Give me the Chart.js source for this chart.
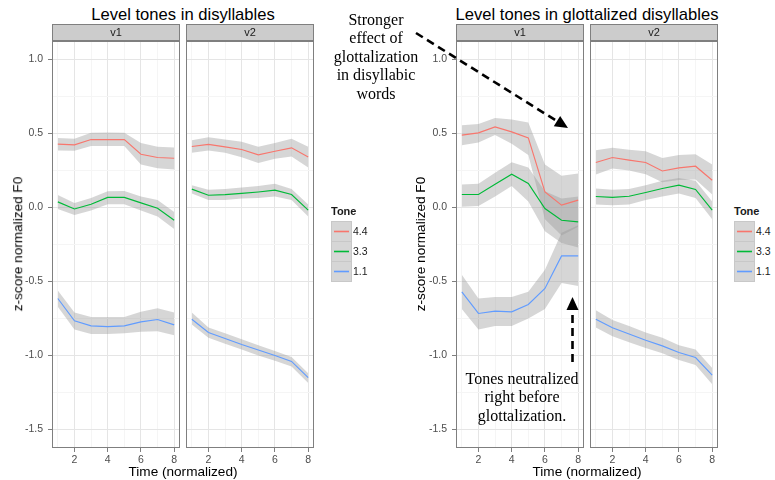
<!DOCTYPE html>
<html lang="en">
<head>
  <meta charset="UTF-8" />
  <title>Level tones</title>
  <script src="https://cdn.jsdelivr.net/npm/chart.js"></script>
  <style>
    body { margin: 0; background: #fff; font-family: "Liberation Sans", Arial, sans-serif; }
    #wrap { position: relative; width: 775px; height: 480px; overflow: hidden; background: #fff; }
    canvas.facet { position: absolute; }
    .title { position: absolute; font-size: 16.6px; color: #000; text-align: center; white-space: nowrap; line-height: 1; }
    .xtitle { position: absolute; font-size: 13.6px; color: #000; text-align: center; white-space: nowrap; line-height: 1; }
    .ytitle { position: absolute; font-size: 13.6px; color: #000; white-space: nowrap; line-height: 1; transform: translate(-50%, -50%) rotate(-90deg); }
    .legend { position: absolute; font-size: 10.5px; color: #1a1a1a; }
    .legend .lt { font-weight: bold; font-size: 11px; height: 16px; }
    .legend .row { position: relative; height: 20px; }
    .legend .key { position: absolute; left: 0; top: 0; width: 19px; height: 19px; background: #d6d6d6; border: 1px solid #c8c8c8; }
    .legend .lab { position: absolute; left: 22px; top: 4px; }
    .note { position: absolute; font-family: "Liberation Serif", "Times New Roman", serif; font-size: 16px; line-height: 18.4px; text-align: center; color: #000; white-space: nowrap; }
    svg { position: absolute; left: 0; top: 0; }
  </style>
</head>
<body>
<div id="wrap">
  <div class="title" style="left:183px; top:7px; transform:translateX(-50%);">Level tones in disyllables</div>
  <div class="title" style="left:587px; top:7px; transform:translateX(-50%);">Level tones in glottalized disyllables</div>

  <canvas id="plainV1" class="facet" width="169" height="444" style="left:12px; top:24px;"></canvas>
  <canvas id="plainV2" class="facet" width="129" height="444" style="left:186px; top:24px;"></canvas>
  <canvas id="glottV1" class="facet" width="169" height="444" style="left:416px; top:24px;"></canvas>
  <canvas id="glottV2" class="facet" width="129" height="444" style="left:590px; top:24px;"></canvas>

  <div class="ytitle" style="left:18px; top:244px;">z-score normalized F0</div>
  <div class="ytitle" style="left:421px; top:244px;">z-score normalized F0</div>
  <div class="xtitle" style="left:183px; top:465px; transform:translateX(-50%);">Time (normalized)</div>
  <div class="xtitle" style="left:587px; top:465px; transform:translateX(-50%);">Time (normalized)</div>

  <div class="legend" id="legendLeft" style="left:331px; top:205px;"></div>
  <div class="legend" id="legendRight" style="left:734px; top:205px;"></div>

  <div class="note" style="left:376px; top:11px; transform:translateX(-50%);">Stronger<br>effect of<br>glottalization<br>in disyllabic<br>words</div>
  <div class="note" style="left:522px; top:370px; transform:translateX(-50%);">Tones neutralized<br>right before<br>glottalization.</div>

  <svg id="arrows" width="775" height="480"></svg>
</div>

<script>
  // time steps and tone categories
  const times = [1, 2, 3, 4, 5, 6, 7, 8];
  const tones = ['4.4', '3.3', '1.1'];
  const toneColors = ['#F8766D', '#00BA38', '#619CFF'];
  const facetNames = ['v1', 'v2'];

  const xTicks = [1, 2, 3, 4, 5, 6, 7, 8];
  const xMajor = [2, 4, 6, 8];
  const yTicks = [-1.5, -1.25, -1, -0.75, -0.5, -0.25, 0, 0.25, 0.5, 0.75, 1];
  const yMajor = [-1.5, -1, -0.5, 0, 0.5, 1];

  // Level tones in disyllables, v1
  const plainV1_44 = [0.428, 0.423, 0.459, 0.459, 0.459, 0.36, 0.338, 0.333];
  const plainV1_44Hi = [0.47, 0.465, 0.505, 0.507, 0.505, 0.435, 0.41, 0.405];
  const plainV1_44Lo = [0.385, 0.383, 0.415, 0.415, 0.415, 0.29, 0.265, 0.257];
  const plainV1_33 = [0.038, -0.01, 0.022, 0.068, 0.068, 0.031, -0.005, -0.086];
  const plainV1_33Hi = [0.085, 0.03, 0.065, 0.11, 0.112, 0.075, 0.05, -0.03];
  const plainV1_33Lo = [-0.01, -0.05, -0.02, 0.022, 0.022, -0.02, -0.06, -0.145];
  const plainV1_11 = [-0.615, -0.766, -0.8, -0.805, -0.8, -0.773, -0.757, -0.793];
  const plainV1_11Hi = [-0.56, -0.71, -0.74, -0.74, -0.74, -0.705, -0.68, -0.71];
  const plainV1_11Lo = [-0.67, -0.825, -0.855, -0.855, -0.85, -0.84, -0.836, -0.863];

  // Level tones in disyllables, v2
  const plainV2_44 = [0.412, 0.426, 0.41, 0.392, 0.356, 0.38, 0.403, 0.342];
  const plainV2_44Hi = [0.455, 0.475, 0.46, 0.445, 0.41, 0.435, 0.465, 0.41];
  const plainV2_44Lo = [0.37, 0.385, 0.37, 0.34, 0.3, 0.33, 0.345, 0.27];
  const plainV2_33 = [0.124, 0.083, 0.087, 0.095, 0.105, 0.117, 0.088, -0.018];
  const plainV2_33Hi = [0.15, 0.12, 0.125, 0.135, 0.145, 0.16, 0.125, 0.02];
  const plainV2_33Lo = [0.095, 0.05, 0.05, 0.06, 0.065, 0.075, 0.05, -0.06];
  const plainV2_11 = [-0.755, -0.845, -0.885, -0.926, -0.963, -1.0, -1.04, -1.149];
  const plainV2_11Hi = [-0.71, -0.81, -0.85, -0.89, -0.93, -0.97, -1.01, -1.12];
  const plainV2_11Lo = [-0.79, -0.88, -0.92, -0.96, -1.0, -1.035, -1.075, -1.185];

  // Level tones in glottalized disyllables, v1
  const glottV1_44 = [0.489, 0.504, 0.545, 0.511, 0.47, 0.105, 0.016, 0.05];
  const glottV1_44Hi = [0.555, 0.565, 0.605, 0.595, 0.575, 0.29, 0.215, 0.23];
  const glottV1_44Lo = [0.42, 0.44, 0.49, 0.43, 0.355, -0.08, -0.19, -0.13];
  const glottV1_33 = [0.088, 0.088, 0.157, 0.225, 0.162, -0.007, -0.086, -0.097];
  const glottV1_33Hi = [0.155, 0.16, 0.235, 0.305, 0.27, 0.11, 0.06, 0.075];
  const glottV1_33Lo = [0.005, 0.01, 0.075, 0.145, 0.04, -0.16, -0.24, -0.27];
  const glottV1_11 = [-0.57, -0.716, -0.7, -0.705, -0.655, -0.547, -0.327, -0.327];
  const glottV1_11Hi = [-0.455, -0.615, -0.605, -0.605, -0.57, -0.42, -0.17, -0.12];
  const glottV1_11Lo = [-0.685, -0.825, -0.8, -0.8, -0.75, -0.685, -0.51, -0.53];

  // Level tones in glottalized disyllables, v2
  const glottV2_44 = [0.304, 0.338, 0.32, 0.304, 0.247, 0.268, 0.279, 0.184];
  const glottV2_44Hi = [0.387, 0.403, 0.39, 0.38, 0.335, 0.355, 0.36, 0.29];
  const glottV2_44Lo = [0.223, 0.263, 0.25, 0.225, 0.17, 0.185, 0.19, 0.088];
  const glottV2_33 = [0.074, 0.068, 0.076, 0.101, 0.128, 0.151, 0.122, -0.018];
  const glottV2_33Hi = [0.128, 0.12, 0.125, 0.15, 0.18, 0.2, 0.18, 0.04];
  const glottV2_33Lo = [0.02, 0.015, 0.02, 0.05, 0.075, 0.095, 0.065, -0.08];
  const glottV2_11 = [-0.755, -0.813, -0.855, -0.897, -0.935, -0.98, -1.014, -1.133];
  const glottV2_11Hi = [-0.694, -0.76, -0.8, -0.845, -0.88, -0.93, -0.96, -1.085];
  const glottV2_11Lo = [-0.81, -0.87, -0.91, -0.95, -0.985, -1.03, -1.065, -1.195];

  Chart.defaults.font.family = '"Liberation Sans", Arial, sans-serif';
  Chart.defaults.font.size = 10.5;
  Chart.defaults.color = '#4d4d4d';

  const ribbonFill = 'rgba(153,153,153,0.4)';
  const pts = arr => arr.map((v, i) => ({ x: times[i], y: v }));

  // strip on top + grey border round the panel
  const facetFrame = {
    id: 'facetFrame',
    afterDraw(chart, args, opts) {
      const { ctx, chartArea: a } = chart;
      ctx.save();
      ctx.lineWidth = 1;
      ctx.strokeStyle = '#7f7f7f';
      ctx.strokeRect(a.left + 0.5, a.top + 0.5, a.right - a.left - 1, a.bottom - a.top - 1);
      ctx.fillStyle = '#cccccc';
      ctx.fillRect(a.left, a.top - 17, a.right - a.left, 17);
      ctx.strokeRect(a.left + 0.5, a.top - 16.5, a.right - a.left - 1, 16);
      ctx.fillStyle = '#1a1a1a';
      ctx.font = '11px "Liberation Sans", Arial, sans-serif';
      ctx.textAlign = 'center';
      ctx.textBaseline = 'middle';
      ctx.fillText(opts.label, (a.left + a.right) / 2, a.top - 8);
      ctx.restore();
    }
  };

  function makeFacet(id, label, showY, series) {
    const datasets = [];
    series.forEach((s, i) => {
      datasets.push({ data: pts(s.hi), fill: '+1', backgroundColor: ribbonFill, borderWidth: 0,
        borderColor: 'transparent', pointRadius: 0, order: 2 });
      datasets.push({ data: pts(s.lo), fill: false, borderWidth: 0, borderColor: 'transparent',
        pointRadius: 0, order: 2 });
    });
    series.forEach((s, i) => {
      datasets.push({ label: tones[i], data: pts(s.mean), fill: false, borderColor: toneColors[i],
        borderWidth: 1.15, pointRadius: 0, tension: 0, order: 1 });
    });

    new Chart(document.getElementById(id), {
      type: 'line',
      data: { datasets },
      plugins: [facetFrame],
      options: {
        responsive: false,
        animation: false,
        layout: { padding: { top: 17, right: 1, left: 0, bottom: 0 } },
        plugins: { legend: { display: false }, tooltip: { enabled: false }, facetFrame: { label } },
        scales: {
          x: {
            type: 'linear', min: 0.65, max: 8.35,
            afterBuildTicks: s => { s.ticks = xTicks.map(v => ({ value: v })); },
            afterFit: s => { s.height = 20; },
            border: { display: false },
            grid: {
              color: c => xMajor.includes(c.tick.value) ? '#e5e5e5' : '#f5f5f5',
              tickColor: c => xMajor.includes(c.tick.value) ? '#7f7f7f' : 'transparent',
              tickLength: 4
            },
            ticks: { autoSkip: false, maxRotation: 0, padding: 2,
              callback: v => xMajor.includes(v) ? String(v) : '' }
          },
          y: {
            type: 'linear', min: -1.625, max: 1.125,
            afterBuildTicks: s => { s.ticks = yTicks.map(v => ({ value: v })); },
            afterFit: s => { s.width = showY ? 40 : 0; },
            border: { display: false },
            grid: {
              color: c => yMajor.includes(c.tick.value) ? '#e5e5e5' : '#f5f5f5',
              tickColor: c => yMajor.includes(c.tick.value) ? '#7f7f7f' : 'transparent',
              tickLength: 4, drawTicks: showY
            },
            ticks: { display: showY, autoSkip: false, padding: 5,
              callback: v => yMajor.includes(v) ? v.toFixed(1) : '' }
          }
        }
      }
    });
  }

  makeFacet('plainV1', facetNames[0], true, [
    { mean: plainV1_44, hi: plainV1_44Hi, lo: plainV1_44Lo },
    { mean: plainV1_33, hi: plainV1_33Hi, lo: plainV1_33Lo },
    { mean: plainV1_11, hi: plainV1_11Hi, lo: plainV1_11Lo }
  ]);
  makeFacet('plainV2', facetNames[1], false, [
    { mean: plainV2_44, hi: plainV2_44Hi, lo: plainV2_44Lo },
    { mean: plainV2_33, hi: plainV2_33Hi, lo: plainV2_33Lo },
    { mean: plainV2_11, hi: plainV2_11Hi, lo: plainV2_11Lo }
  ]);
  makeFacet('glottV1', facetNames[0], true, [
    { mean: glottV1_44, hi: glottV1_44Hi, lo: glottV1_44Lo },
    { mean: glottV1_33, hi: glottV1_33Hi, lo: glottV1_33Lo },
    { mean: glottV1_11, hi: glottV1_11Hi, lo: glottV1_11Lo }
  ]);
  makeFacet('glottV2', facetNames[1], false, [
    { mean: glottV2_44, hi: glottV2_44Hi, lo: glottV2_44Lo },
    { mean: glottV2_33, hi: glottV2_33Hi, lo: glottV2_33Lo },
    { mean: glottV2_11, hi: glottV2_11Hi, lo: glottV2_11Lo }
  ]);

  // legends: key line drawn with a small svg so the colour is exact
  function buildLegend(el) {
    let html = '<div class="lt">Tone</div>';
    tones.forEach((t, i) => {
      html += '<div class="row"><div class="key"><svg width="19" height="19" style="position:absolute;left:0;top:0">' +
        '<line x1="2" y1="9.5" x2="17" y2="9.5" stroke="' + toneColors[i] + '" stroke-width="1.6"/></svg>' +
        '</div><span class="lab">' + t + '</span></div>';
    });
    el.innerHTML = html;
  }
  buildLegend(document.getElementById('legendLeft'));
  buildLegend(document.getElementById('legendRight'));

  // dashed annotation arrows
  function arrow(x1, y1, x2, y2) {
    const svg = document.getElementById('arrows');
    const dx = x2 - x1, dy = y2 - y1, len = Math.hypot(dx, dy);
    const ux = dx / len, uy = dy / len, head = 13, half = 6;
    const bx = x2 - ux * head, by = y2 - uy * head;
    const line = document.createElementNS('http://www.w3.org/2000/svg', 'line');
    line.setAttribute('x1', x1); line.setAttribute('y1', y1);
    line.setAttribute('x2', bx + ux * 2); line.setAttribute('y2', by + uy * 2);
    line.setAttribute('stroke', '#000'); line.setAttribute('stroke-width', '2.6');
    line.setAttribute('stroke-dasharray', '8 5');
    svg.appendChild(line);
    const tri = document.createElementNS('http://www.w3.org/2000/svg', 'polygon');
    tri.setAttribute('points', [x2, y2, bx - uy * half, by + ux * half, bx + uy * half, by - ux * half].join(' '));
    tri.setAttribute('fill', '#000');
    svg.appendChild(tri);
  }
  arrow(416, 33, 568, 128);
  arrow(572.5, 362, 572.5, 297);
</script>
</body>
</html>
